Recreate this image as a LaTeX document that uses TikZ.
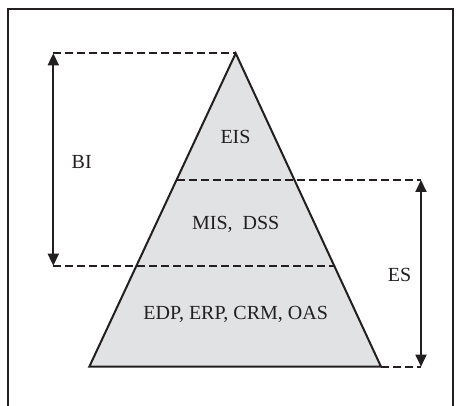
\documentclass[tikz,border=0pt]{standalone}
\usepackage{fontspec}
\setmainfont{Liberation Serif}
\usetikzlibrary{arrows.meta}
\definecolor{layerfill}{HTML}{E1E2E4}
\definecolor{ink}{HTML}{231F20}
\tikzset{
  frameline/.style={line width=2.4pt, draw=ink},
  edge/.style={line width=2pt, draw=ink, line join=miter},
  guide/.style={line width=2.2pt, draw=ink, dash pattern=on 8pt off 4pt},
  span/.style={line width=1.8pt, draw=ink, {Triangle[width=11pt,length=12pt]}-{Triangle[width=11pt,length=12pt]}},
  lbl/.style={font=\fontsize{20}{24}\selectfont, text=ink, inner sep=0pt}
}
\begin{document}
\begin{tikzpicture}[x=1pt,y=-1pt]
  \useasboundingbox (0,0) rectangle (456,406);
  % outer frame (open at the bottom)
  \draw[frameline] (8,406) -- (8,9) -- (453,9) -- (453,406);

  % pyramid corners and layer boundaries
  \coordinate (apex) at (235.7,53.3);
  \coordinate (bl) at (89.3,366.7);
  \coordinate (br) at (381,366.7);
  \coordinate (m1l) at (176.5,180);
  \coordinate (m2r) at (334.2,265.7);

  \fill[layerfill] (apex) -- (bl) -- (br) -- cycle;

  % guide lines
  \coordinate (biTop) at (53.3,53.3);
  \coordinate (biBot) at (53.3,265.7);
  \coordinate (esTop) at (421,180);
  \coordinate (esBot) at (421,366.7);
  \draw[guide] (biTop) -- (apex);
  \draw[guide] (biBot) -- (m2r);
  \draw[guide] (m1l) -- (esTop);
  \draw[guide] (br) -- (esBot);

  \draw[edge] (apex) -- (bl) -- (br) -- cycle;

  % span arrows
  \draw[span] (biTop) -- (biBot);
  \draw[span] (esTop) -- (esBot);

  % labels
  \node[lbl] (bi) at (81.7,161.5) {BI};
  \node[lbl] (es) at (399.5,275) {ES};
  \node[lbl] (eis) at (235.5,137) {EIS};
  \node[lbl] (mis) at (235.7,224) {MIS,\ \ DSS};
  \node[lbl] (edp) at (235.7,314) {EDP, ERP, CRM, OAS};
\end{tikzpicture}
\end{document}
